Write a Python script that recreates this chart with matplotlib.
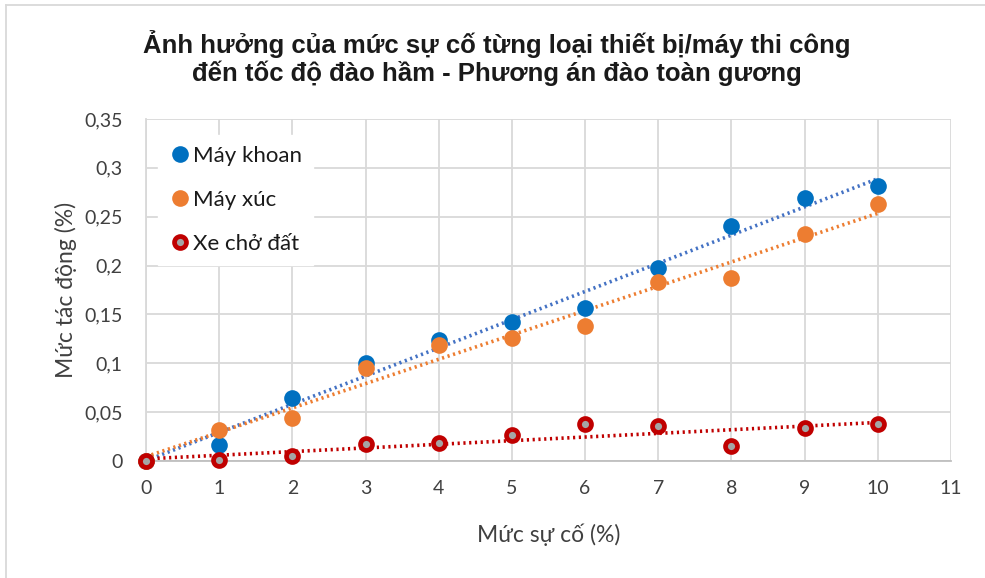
import numpy as np
import matplotlib
matplotlib.use("Agg")
import matplotlib.pyplot as plt
from matplotlib.lines import Line2D
from matplotlib.ticker import FuncFormatter, MultipleLocator

plt.rcParams['font.family'] = ['Lato', 'Noto Sans', 'DejaVu Sans']

# Incident level (%) and resulting impact (%) per equipment type
muc_su_co = [0, 1, 2, 3, 4, 5, 6, 7, 8, 9, 10]
may_khoan = [0, 0.016, 0.064, 0.100, 0.124, 0.142, 0.157, 0.198, 0.240, 0.269, 0.281]
may_xuc = [0, 0.032, 0.044, 0.095, 0.119, 0.126, 0.138, 0.183, 0.187, 0.232, 0.263]
xe_cho_dat = [0, 0.001, 0.005, 0.017, 0.018, 0.027, 0.038, 0.036, 0.015, 0.034, 0.038]

ten_series = ['Máy khoan', 'Máy xúc', 'Xe chở đất']
title = 'Ảnh hưởng của mức sự cố từng loại thiết bị/máy thi công\nđến tốc độ đào hầm - Phương án đào toàn gương'

fig = plt.figure(figsize=(9.85, 5.78), dpi=100)
ax = fig.add_axes([146 / 985, 117 / 578, 805 / 985, 342 / 578])

x = np.array(muc_su_co, dtype=float)
styles = [
    dict(data=may_khoan, mfc='#0070C0', mec='#0070C0', mew=0, ms=12, trend='#4472C4'),
    dict(data=may_xuc, mfc='#ED7D31', mec='#ED7D31', mew=0, ms=12, trend='#ED7D31'),
    dict(data=xe_cho_dat, mfc='#A5A5A5', mec='#C00000', mew=3.4, ms=8.6, trend='#C00000'),
]

xs = np.array([0, 10], dtype=float)
for st in styles:
    y = np.array(st['data'])
    k, b = np.polyfit(x, y, 1)
    ax.plot(xs, k * xs + b, linestyle=(0, (0.6, 1.0)), color=st['trend'], lw=2.6, zorder=2,
            dash_capstyle='butt')
for st in styles:
    ax.plot(x, st['data'], 'o', mfc=st['mfc'], mec=st['mec'], mew=st['mew'],
            ms=st['ms'], zorder=3, clip_on=False)

ax.set_xlim(0, 11)
ax.set_ylim(0, 0.35)
ax.xaxis.set_major_locator(MultipleLocator(1))
ax.yaxis.set_major_locator(MultipleLocator(0.05))


def comma_fmt(v, pos):
    s = ('%.2f' % v).rstrip('0').rstrip('.')
    return s.replace('.', ',')


ax.yaxis.set_major_formatter(FuncFormatter(comma_fmt))
ax.grid(True, color='#D9D9D9', lw=1.3)
ax.set_axisbelow(True)
for side in ['top', 'right']:
    ax.spines[side].set_visible(False)
ax.spines['left'].set_color('#D9D9D9')
ax.spines['left'].set_linewidth(1.3)
ax.spines['bottom'].set_color('#BFBFBF')
ax.spines['bottom'].set_linewidth(1.3)
ax.tick_params(length=0, labelsize=14, colors='#404040')
ax.tick_params(axis='y', pad=17)
ax.tick_params(axis='x', pad=14)

ax.set_xlabel('Mức sự cố (%)', fontsize=16.5, color='#404040', labelpad=19)
ax.set_ylabel('Mức tác động (%)', fontsize=16.5, color='#404040', labelpad=5)

fig.text(497 / 985, 1 - 58 / 578, title, ha='center', va='center', fontsize=18.5,
         fontweight='bold', linespacing=1.12,
         family=['Liberation Sans Narrow', 'Liberation Sans', 'DejaVu Sans'], color='#1a1a1a')

handles = [Line2D([], [], ls='none', marker='o', mfc=st['mfc'], mec=st['mec'], mew=st['mew'],
                  ms=st['ms']) for st in styles]
leg = ax.legend(handles, ten_series, loc='upper left', bbox_to_anchor=(0.0149, 0.953),
                frameon=True, fontsize=16, handletextpad=0.09, handlelength=1.0,
                labelspacing=1.07, borderpad=0.5, borderaxespad=0.0, fancybox=False)
leg.get_frame().set_edgecolor('white')
leg.get_frame().set_facecolor('white')
leg.get_frame().set_alpha(1)
for t in leg.get_texts():
    t.set_color('#1a1a1a')

# Light chart-area border on the left and top edges
fig.add_artist(Line2D([6 / 985, 6 / 985], [0, 1 - 5 / 578], transform=fig.transFigure,
                      color='#D9D9D9', lw=1.3))
fig.add_artist(Line2D([6 / 985, 1], [1 - 5 / 578, 1 - 5 / 578], transform=fig.transFigure,
                      color='#D9D9D9', lw=1.3))

fig.savefig('out.png', dpi=100)
